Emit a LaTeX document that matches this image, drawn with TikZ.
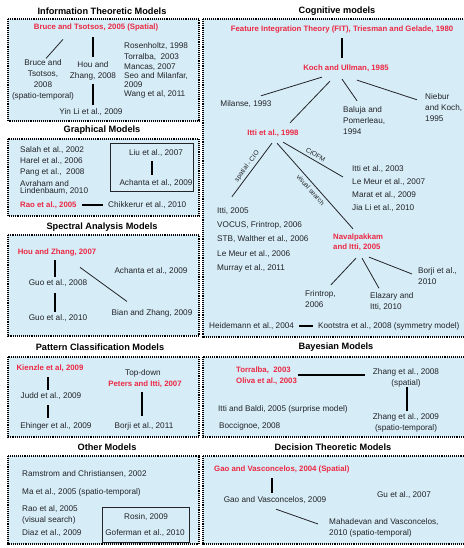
\documentclass[tikz,border=0pt]{standalone}
\usepackage{fontspec}
\setmainfont{Liberation Sans}
\usetikzlibrary{calc}
\definecolor{boxblue}{RGB}{214,237,247}
\definecolor{hired}{RGB}{236,40,68}
\definecolor{txt}{RGB}{35,35,40}
\begin{document}
\begin{tikzpicture}[x=1pt,y=-1pt,
  every node/.style={inner sep=1pt, text=txt, font=\fontsize{8.2}{11}\selectfont},
  hl/.style={text=hired, font=\bfseries\fontsize{7.8}{10}\selectfont},
  ttl/.style={text=black, font=\bfseries\fontsize{9.2}{11}\selectfont},
  lbl/.style={font=\fontsize{6.6}{8}\selectfont, inner sep=0.5pt},
  panel/.style={draw=black, fill=boxblue, line width=1.1pt, dash pattern=on 1pt off 0.9pt},
  inbox/.style={draw=txt, line width=0.6pt},
  conn/.style={draw=txt, line width=0.8pt},
  bar/.style={draw=black, line width=1.7pt},
  lft/.style={anchor=west, align=left},
]
\fill[white] (0,0) rectangle (463,548);
\useasboundingbox (0,0) rectangle (463,548);

% panels
\draw[panel] (8,19) rectangle (199,121);
\draw[panel] (8,139) rectangle (199,216);
\draw[panel] (8,235) rectangle (199,336);
\draw[panel] (8,357) rectangle (199,437);
\draw[panel] (8,456) rectangle (199,544);
\draw[panel] (203,19) rectangle (467,337);
\draw[panel] (203,357) rectangle (467,437);
\draw[panel] (203,456) rectangle (467,544);

% titles
\node[ttl] (tInfo) at (102,11) {Information Theoretic Models};
\node[ttl] (tGraph) at (102,130) {Graphical Models};
\node[ttl] (tSpec) at (102,227) {Spectral Analysis Models};
\node[ttl] (tPat) at (100,347) {Pattern Classification Models};
\node[ttl] (tOther) at (107,447) {Other Models};
\node[ttl] (tCog) at (337,11) {Cognitive models};
\node[ttl] (tBayes) at (336,347) {Bayesian Models};
\node[ttl] (tDec) at (333,447) {Decision Theoretic Models};

% ---------- Information theoretic
\node[hl] (b05) at (96,27) {Bruce and Tsotsos, 2005 (Spatial)};
\node[align=center] (b08) at (43,80) {Bruce and\\Tsotsos,\\2008\\(spatio-temporal)};
\node[align=center] (h08) at (93,70.5) {Hou and\\Zhang, 2008};
\node (yin) at (91,112) {Yin Li et al., 2009};
\node[lft] (ros) at (123,46) {Rosenholtz, 1998};
\node[lft] (tor1) at (123,57) {Torralba,~ 2003};
\node[lft] (man) at (123,67) {Mancas, 2007};
\node[lft, font=\fontsize{8.2}{8.5}\selectfont] (seo) at (123,80) {Seo and Milanfar,\\2009};
\node[lft] (wang) at (123,94) {Wang et al, 2011};
\draw[conn] ([shift={(-33,7.5)}]b05.south) -- ([shift={(3,0)}]b08.north);
\draw[bar] ([shift={(0,5.5)}]h08.north |- b05.south) -- ([shift={(0,-3)}]h08.north);
\draw[bar] ([shift={(0,3)}]h08.south) -- ([shift={(0,-2)}]h08.south |- yin.north);

% ---------- Graphical
\node[lft] (sal) at (19,150) {Salah et al., 2002};
\node[lft] (har) at (19,161) {Harel et al., 2006};
\node[lft] (pang) at (19,172) {Pang et al.,~ 2008};
\node[lft, font=\fontsize{8.2}{7.5}\selectfont] (avr) at (19,187.5) {Avraham and\\Lindenbaum, 2010};
\node[lft, hl] (rao) at (19,205) {Rao et al., 2005};
\node[lft] (chik) at (107,205) {Chikkerur et al., 2010};
\draw[bar] (rao.east) ++(4,0) -- ([shift={(-4,0)}]chik.west);
\draw[inbox] (110,143) rectangle (193,191);
\node (liu) at (156,153) {Liu et al., 2007};
\node (ach1) at (156,183) {Achanta et al., 2009};
\draw[bar] ([shift={(-4,3.5)}]liu.south) -- ([shift={(-4,-3.5)}]ach1.north);

% ---------- Spectral
\node[hl] (hz07) at (57,252) {Hou and Zhang, 2007};
\node (g08) at (58,283) {Guo et al., 2008};
\node (g10) at (58,318) {Guo et al., 2010};
\node (ach2) at (151,271) {Achanta et al., 2009};
\node (bian) at (152,313) {Bian and Zhang, 2009};
\draw[bar] ([shift={(-2,3.5)}]hz07.south) -- ([shift={(-3,-1.5)}]g08.north);
\draw[bar] ([shift={(-3,5.5)}]g08.south) -- ([shift={(-3,-1.5)}]g10.north);
\draw[conn] ([shift={(23,10.5)}]hz07.south) -- ([shift={(-25,-6.5)}]bian.north);

% ---------- Pattern classification
\node[hl] (kien) at (50,368) {Kienzle et al, 2009};
\node (judd) at (51,396) {Judd et al., 2009};
\node (ehin) at (56,426) {Ehinger et al., 2009};
\node (td) at (143,373) {Top-down};
\node[hl] (pet) at (145,384) {Peters and Itti, 2007};
\node (bor11) at (144,426) {Borji et al., 2011};
\draw[bar] ([shift={(-2,4.5)}]kien.south) -- ([shift={(-3,-1.5)}]judd.north);
\draw[bar] ([shift={(-3,4.5)}]judd.south) -- ([shift={(-8,-2.5)}]ehin.north);
\draw[bar] ([shift={(-3,3.5)}]pet.south) -- ([shift={(-2,-4.5)}]bor11.north);

% ---------- Other
\node[lft] (ram) at (21,474) {Ramstrom and Christiansen, 2002};
\node[lft] (ma) at (21,492) {Ma et al., 2005 (spatio-temporal)};
\node[lft] (raov) at (21,514.5) {Rao et al, 2005\\(visual search)};
\node[lft] (diaz) at (21,533) {Diaz et al., 2009};
\draw[inbox] (102,507) rectangle (189,542);
\node (rosin) at (146,517) {Rosin, 2009};
\node (gof) at (145,533) {Goferman et al., 2010};

% ---------- Cognitive
\node[hl] (fit) at (342,30) {Feature Integration Theory (FIT), Triesman and Gelade, 1980};
\node[hl] (koch) at (346,68) {Koch and Ullman, 1985};
\node (mil) at (246,104) {Milanse, 1993};
\node[lft] (bal) at (342,121) {Baluja and\\Pomerleau,\\1994};
\node[lft] (nie) at (424,108) {Niebur\\and Koch,\\1995};
\node[hl] (itti) at (273,133) {Itti et al., 1998};
\draw[bar] ([shift={(0,3.5)}]fit.south) -- ([shift={(-4,-5.5)}]koch.north);
\draw[conn] ([shift={(-24,4.5)}]koch.south) -- ([shift={(15,-3.5)}]mil.north);
\draw[conn] ([shift={(-16,8.5)}]koch.south) -- ([shift={(17,-5.5)}]itti.north);
\draw[conn] ([shift={(-4,6.5)}]koch.south) -- ([shift={(15,-5)}]bal.north west);
\draw[conn] ([shift={(11,7.5)}]koch.south) -- ([shift={(-7,7)}]nie.north west);

\node[lft] (it05) at (216,211) {Itti, 2005};
\node[lft] (vocus) at (216,225) {VOCUS, Frintrop, 2006};
\node[lft] (stb) at (216,239) {STB, Walther et al., 2006};
\node[lft] (lm06) at (216,254) {Le Meur et al., 2006};
\node[lft] (mur) at (216,268) {Murray et al., 2011};
\node[lft] (it03) at (351,169) {Itti et al., 2003};
\node[lft] (lm07) at (351,182) {Le Meur et al., 2007};
\node[lft] (mar) at (351,195) {Marat et al., 2009};
\node[lft] (jia) at (351,208) {Jia Li et al., 2010};
\node[lft, hl] (nav) at (332,242) {Navalpakkam\\and Itti, 2005};

\draw[conn] ([shift={(-1,5.5)}]itti.south) -- node[lbl, sloped, above=2pt] {spatial - CIO} ([shift={(-18,-9.5)}]it05.north east);
\draw[conn] ([shift={(4,5.5)}]itti.south) -- node[lbl, sloped, below=2.5pt] {visual search} ([shift={(21,-3.5)}]nav.north west);
\draw[conn] ([shift={(10,4.5)}]itti.south) -- node[lbl, sloped, above=2pt] {CIOFM} ([shift={(-8,8)}]it03.west);

\node[lft] (frin) at (304,299) {Frintrop,\\2006};
\node[lft] (ela) at (369,302) {Elazary and\\Itti, 2010};
\node[lft] (bor10) at (417,276) {Borji et al.,\\2010};
\draw[conn] ([shift={(24,6.5)}]nav.south west) -- ([shift={(27,-4.5)}]frin.north west);
\draw[conn] ([shift={(30,6.5)}]nav.south west) -- ([shift={(10,-3.5)}]ela.north west);
\draw[conn] ([shift={(37,5.5)}]nav.south west) -- ([shift={(-5,-2)}]bor10.west);

\node[lft] (heid) at (208,326) {Heidemann et al., 2004};
\node[lft] (koot) at (317,326) {Kootstra et al., 2008 (symmetry model)};
\draw[bar] ([shift={(4,0)}]heid.east) -- ([shift={(-4,0)}]koot.west);

% ---------- Bayesian
\node[lft, hl] (tor2) at (235,370) {Torralba,~ 2003};
\node[lft, hl] (oli) at (235,381) {Oliva et al., 2003};
\node[align=center] (z08) at (406,378) {Zhang et al., 2008\\(spatial)};
\node[align=center] (z09) at (406,423) {Zhang et al., 2009\\(spatio-temporal)};
\node[lft] (itb) at (217,409) {Itti and Baldi, 2005 (surprise model)};
\node[lft] (boc) at (218,426) {Boccignoe, 2008};
\draw[bar, line width=1.4pt] ([shift={(0,-6)}]oli.east) -- ([shift={(-7,-3)}]z08.west);
\draw[bar] ([shift={(1,-1.5)}]z08.south) -- ([shift={(1,-1.5)}]z09.north);

% ---------- Decision
\node[lft, hl] (gao04) at (213,469) {Gao and Vasconcelos, 2004 (Spatial)};
\node (gao09) at (275,500) {Gao and Vasconcelos, 2009};
\node (gu) at (404,495) {Gu et al., 2007};
\node[lft] (mah) at (328,527.5) {Mahadevan and Vasconcelos,\\2010 (spatio-temporal)};
\draw[bar] ([shift={(-3,4)}]gao09.north |- gao04.south) -- ([shift={(-3,-2.5)}]gao09.north);
\draw[conn] ([shift={(1,4.5)}]gao09.south) -- ([shift={(-10,-3.5)}]mah.west);
\end{tikzpicture}
\end{document}
